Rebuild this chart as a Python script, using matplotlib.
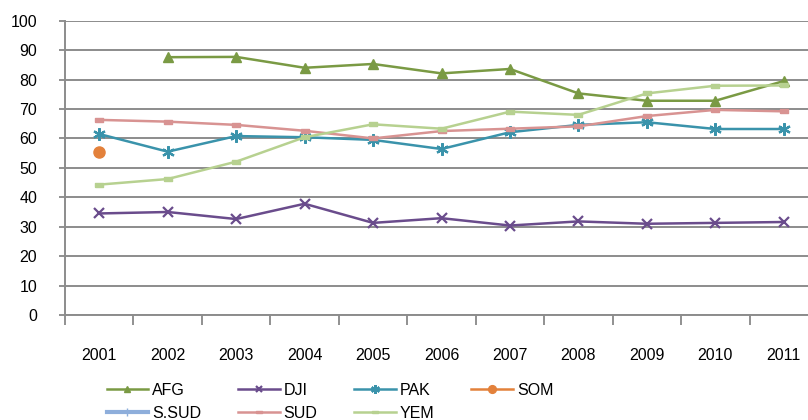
import numpy as np
import matplotlib.pyplot as plt
from matplotlib.ticker import FixedLocator

YEARS = ['2001', '2002', '2003', '2004', '2005', '2006', '2007', '2008', '2009', '2010', '2011']
nan = np.nan

AFG = [nan, 87.6, 87.7, 84.0, 85.3, 82.1, 83.6, 75.3, 72.8, 72.8, 79.5]
DJI = [34.5, 35.0, 32.6, 37.8, 31.3, 32.9, 30.4, 31.8, 31.0, 31.3, 31.6]
PAK = [61.5, 55.5, 60.8, 60.4, 59.5, 56.4, 62.1, 64.6, 65.5, 63.2, 63.2]
SOM = [55.3, nan, nan, nan, nan, nan, nan, nan, nan, nan, nan]
S_SUD = [nan] * 11
SUD = [66.3, 65.7, 64.6, 62.6, 60.0, 62.5, 63.3, 64.1, 67.6, 69.7, 69.2]
YEM = [44.3, 46.2, 52.1, 60.4, 64.8, 63.3, 69.1, 68.0, 75.3, 77.9, 78.0]

DASH = [(-1, -0.45), (1, -0.45), (1, 0.45), (-1, 0.45), (-1, -0.45)]

plt.rcParams['font.family'] = ['Liberation Sans', 'DejaVu Sans']

fig = plt.figure(figsize=(8.08, 4.2), dpi=100)
ax = fig.add_axes([65 / 808, 1 - 315 / 420, 753 / 808, 294.3 / 420])
x = np.arange(len(YEARS))

series = [
    ('AFG', AFG, '#7a9a44', dict(marker='^', ms=7)),
    ('DJI', DJI, '#6a4c8c', dict(marker='x', ms=7, mew=1.6)),
    ('PAK', PAK, '#3a93ab', dict(marker=(6, 2, 0), ms=9, mew=1.6)),
    ('SOM', SOM, '#e3813b', dict(marker='o', ms=8)),
    ('S.SUD', S_SUD, '#8eaedb', dict(marker='|', ms=9, lw=3)),
    ('SUD', SUD, '#d89392', dict(marker=DASH, ms=6)),
    ('YEM', YEM, '#b7d190', dict(marker=DASH, ms=6)),
]

handles = {}
for name, vals, col, kw in series:
    lw = kw.pop('lw', 1.8)
    h, = ax.plot(x, vals, color=col, lw=lw, label=name, mec=col, mfc=col, **kw)
    handles[name] = h

ax.set_xlim(-0.5, 10.5)
ax.set_ylim(0, 100)
ax.set_yticks(range(0, 101, 10))
ax.set_xticks(x)
ax.set_xticklabels(YEARS)
ax.xaxis.set_minor_locator(FixedLocator(np.arange(-0.5, 11, 1)))
ax.tick_params(axis='x', which='major', length=0, pad=24, labelsize=11.5)
ax.tick_params(axis='x', which='minor', length=7, width=1.3, color='#888888')
ax.tick_params(axis='y', length=4, width=1.3, color='#888888', pad=16, labelsize=11.5)
ax.grid(axis='y', color='#8c8c8c', lw=1.4)
ax.set_axisbelow(True)
for s in ['top', 'right']:
    ax.spines[s].set_visible(False)
for s in ['left', 'bottom']:
    ax.spines[s].set_color('#8c8c8c')
    ax.spines[s].set_linewidth(1.4)

order = ['AFG', 'S.SUD', 'DJI', 'SUD', 'PAK', 'YEM', 'SOM']
fig.legend([handles[n] for n in order], order, ncol=4, frameon=False,
           loc='center', bbox_to_anchor=(330 / 808, 1 - 402 / 420),
           fontsize=11.5, handlelength=2.6, columnspacing=2.3,
           labelspacing=0.5, handletextpad=0.25, markerscale=0.7)

fig.savefig('out.png', dpi=100)
